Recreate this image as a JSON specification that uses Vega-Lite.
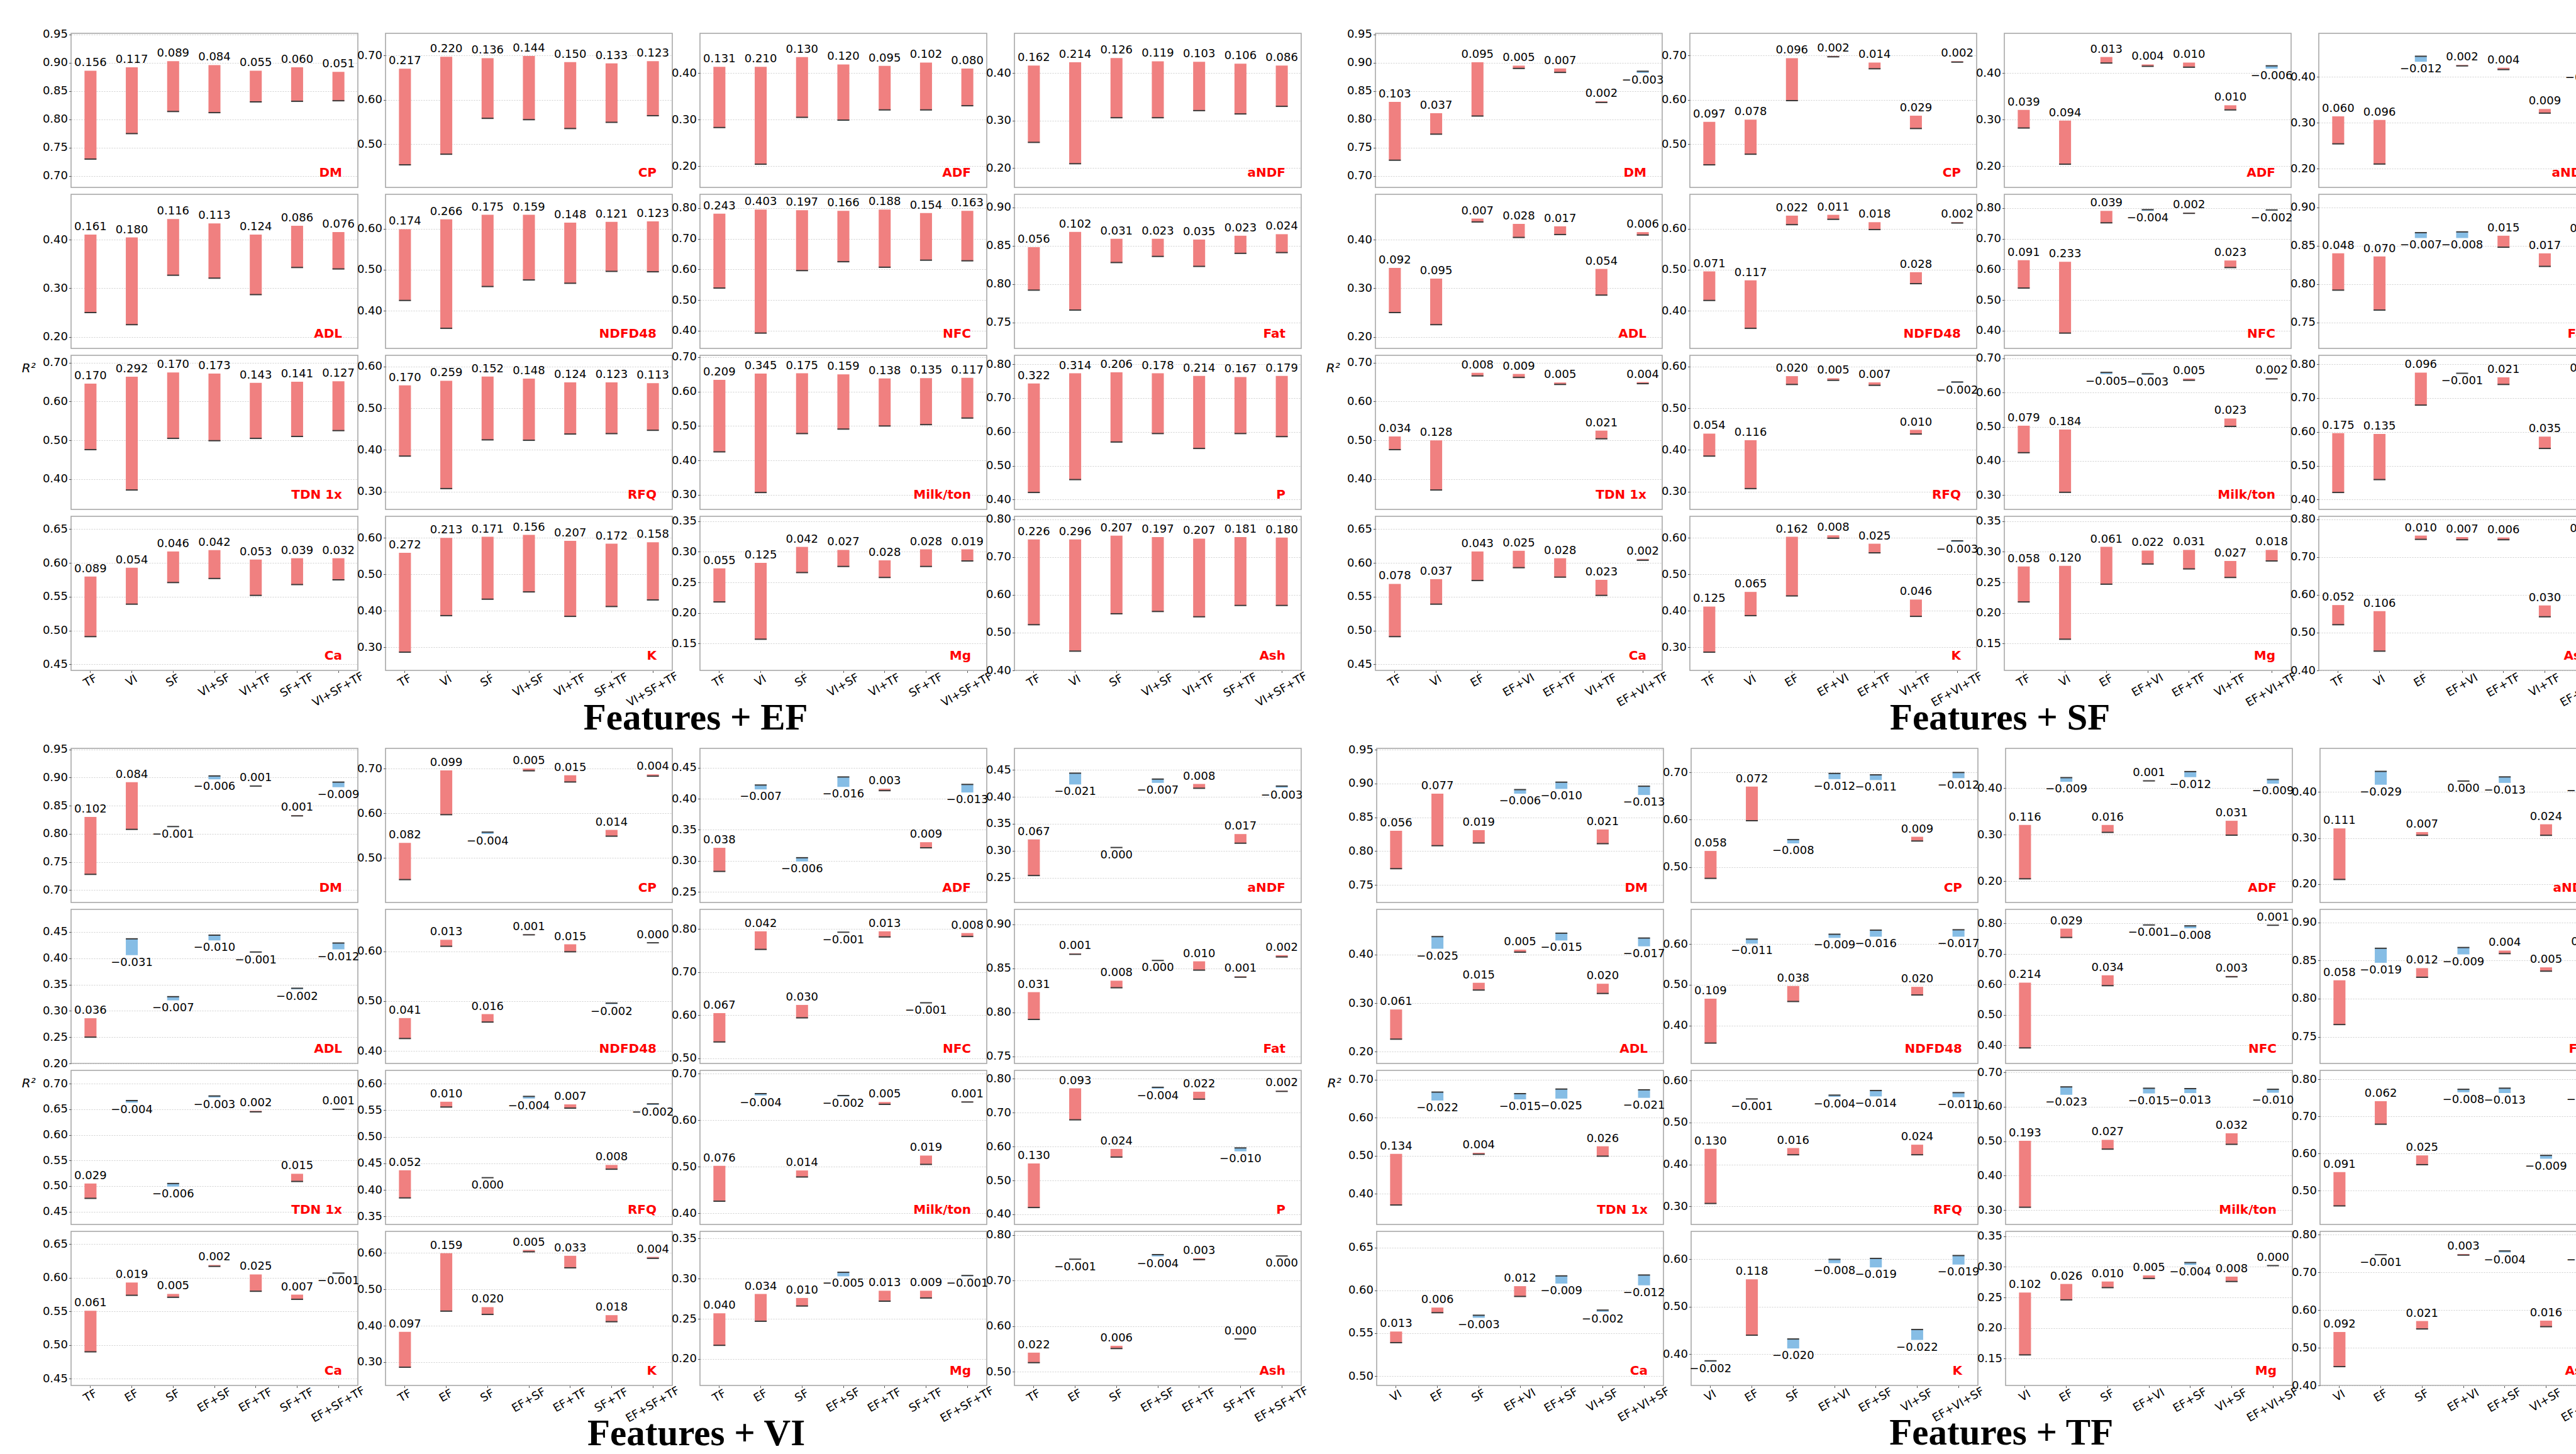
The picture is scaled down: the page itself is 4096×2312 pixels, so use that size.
{
"$schema": "https://vega.github.io/schema/vega-lite/v6.json",
"background": "white",
"padding": {"left": 34, "top": 44, "right": 0, "bottom": 0},
"datasets": {
"EF": [
{"t":"DM","lo":0.680,"hi":0.952},
{"t":"DM","f":"TF","b":0.730,"n":0.886,"g":0.156},
{"t":"DM","f":"VI","b":0.775,"n":0.892,"g":0.117},
{"t":"DM","f":"SF","b":0.814,"n":0.903,"g":0.089},
{"t":"DM","f":"VI+SF","b":0.812,"n":0.896,"g":0.084},
{"t":"DM","f":"VI+TF","b":0.831,"n":0.886,"g":0.055},
{"t":"DM","f":"SF+TF","b":0.832,"n":0.892,"g":0.060},
{"t":"DM","f":"VI+SF+TF","b":0.833,"n":0.884,"g":0.051},
{"t":"CP","lo":0.402,"hi":0.750},
{"t":"CP","f":"TF","b":0.453,"n":0.670,"g":0.217},
{"t":"CP","f":"VI","b":0.477,"n":0.697,"g":0.220},
{"t":"CP","f":"SF","b":0.558,"n":0.694,"g":0.136},
{"t":"CP","f":"VI+SF","b":0.555,"n":0.699,"g":0.144},
{"t":"CP","f":"VI+TF","b":0.535,"n":0.685,"g":0.150},
{"t":"CP","f":"SF+TF","b":0.549,"n":0.682,"g":0.133},
{"t":"CP","f":"VI+SF+TF","b":0.564,"n":0.687,"g":0.123},
{"t":"ADF","lo":0.154,"hi":0.486},
{"t":"ADF","f":"TF","b":0.283,"n":0.414,"g":0.131},
{"t":"ADF","f":"VI","b":0.204,"n":0.414,"g":0.210},
{"t":"ADF","f":"SF","b":0.305,"n":0.435,"g":0.130},
{"t":"ADF","f":"VI+SF","b":0.299,"n":0.419,"g":0.120},
{"t":"ADF","f":"VI+TF","b":0.321,"n":0.416,"g":0.095},
{"t":"ADF","f":"SF+TF","b":0.321,"n":0.423,"g":0.102},
{"t":"ADF","f":"VI+SF+TF","b":0.330,"n":0.410,"g":0.080},
{"t":"aNDF","lo":0.159,"hi":0.484},
{"t":"aNDF","f":"TF","b":0.254,"n":0.416,"g":0.162},
{"t":"aNDF","f":"VI","b":0.209,"n":0.423,"g":0.214},
{"t":"aNDF","f":"SF","b":0.306,"n":0.432,"g":0.126},
{"t":"aNDF","f":"VI+SF","b":0.306,"n":0.425,"g":0.119},
{"t":"aNDF","f":"VI+TF","b":0.321,"n":0.424,"g":0.103},
{"t":"aNDF","f":"SF+TF","b":0.314,"n":0.420,"g":0.106},
{"t":"aNDF","f":"VI+SF+TF","b":0.330,"n":0.416,"g":0.086},
{"t":"ADL","lo":0.176,"hi":0.494},
{"t":"ADL","f":"TF","b":0.250,"n":0.411,"g":0.161},
{"t":"ADL","f":"VI","b":0.225,"n":0.405,"g":0.180},
{"t":"ADL","f":"SF","b":0.327,"n":0.443,"g":0.116},
{"t":"ADL","f":"VI+SF","b":0.321,"n":0.434,"g":0.113},
{"t":"ADL","f":"VI+TF","b":0.287,"n":0.411,"g":0.124},
{"t":"ADL","f":"SF+TF","b":0.343,"n":0.429,"g":0.086},
{"t":"ADL","f":"VI+SF+TF","b":0.340,"n":0.416,"g":0.076},
{"t":"NDFD48","lo":0.308,"hi":0.684},
{"t":"NDFD48","f":"TF","b":0.425,"n":0.599,"g":0.174},
{"t":"NDFD48","f":"VI","b":0.357,"n":0.623,"g":0.266},
{"t":"NDFD48","f":"SF","b":0.459,"n":0.634,"g":0.175},
{"t":"NDFD48","f":"VI+SF","b":0.475,"n":0.634,"g":0.159},
{"t":"NDFD48","f":"VI+TF","b":0.467,"n":0.615,"g":0.148},
{"t":"NDFD48","f":"SF+TF","b":0.496,"n":0.617,"g":0.121},
{"t":"NDFD48","f":"VI+SF+TF","b":0.495,"n":0.618,"g":0.123},
{"t":"NFC","lo":0.342,"hi":0.845},
{"t":"NFC","f":"TF","b":0.539,"n":0.782,"g":0.243},
{"t":"NFC","f":"VI","b":0.392,"n":0.795,"g":0.403},
{"t":"NFC","f":"SF","b":0.596,"n":0.793,"g":0.197},
{"t":"NFC","f":"VI+SF","b":0.625,"n":0.791,"g":0.166},
{"t":"NFC","f":"VI+TF","b":0.607,"n":0.795,"g":0.188},
{"t":"NFC","f":"SF+TF","b":0.630,"n":0.784,"g":0.154},
{"t":"NFC","f":"VI+SF+TF","b":0.628,"n":0.791,"g":0.163},
{"t":"Fat","lo":0.716,"hi":0.917},
{"t":"Fat","f":"TF","b":0.792,"n":0.848,"g":0.056},
{"t":"Fat","f":"VI","b":0.766,"n":0.868,"g":0.102},
{"t":"Fat","f":"SF","b":0.828,"n":0.859,"g":0.031},
{"t":"Fat","f":"VI+SF","b":0.836,"n":0.859,"g":0.023},
{"t":"Fat","f":"VI+TF","b":0.823,"n":0.858,"g":0.035},
{"t":"Fat","f":"SF+TF","b":0.840,"n":0.863,"g":0.023},
{"t":"Fat","f":"VI+SF+TF","b":0.841,"n":0.865,"g":0.024},
{"t":"TDN 1x","lo":0.322,"hi":0.719},
{"t":"TDN 1x","f":"TF","b":0.476,"n":0.646,"g":0.170},
{"t":"TDN 1x","f":"VI","b":0.372,"n":0.664,"g":0.292},
{"t":"TDN 1x","f":"SF","b":0.505,"n":0.675,"g":0.170},
{"t":"TDN 1x","f":"VI+SF","b":0.499,"n":0.672,"g":0.173},
{"t":"TDN 1x","f":"VI+TF","b":0.505,"n":0.648,"g":0.143},
{"t":"TDN 1x","f":"SF+TF","b":0.510,"n":0.651,"g":0.141},
{"t":"TDN 1x","f":"VI+SF+TF","b":0.525,"n":0.652,"g":0.127},
{"t":"RFQ","lo":0.257,"hi":0.627},
{"t":"RFQ","f":"TF","b":0.385,"n":0.555,"g":0.170},
{"t":"RFQ","f":"VI","b":0.307,"n":0.566,"g":0.259},
{"t":"RFQ","f":"SF","b":0.424,"n":0.576,"g":0.152},
{"t":"RFQ","f":"VI+SF","b":0.423,"n":0.571,"g":0.148},
{"t":"RFQ","f":"VI+TF","b":0.438,"n":0.562,"g":0.124},
{"t":"RFQ","f":"SF+TF","b":0.439,"n":0.562,"g":0.123},
{"t":"RFQ","f":"VI+SF+TF","b":0.447,"n":0.560,"g":0.113},
{"t":"Milk/ton","lo":0.258,"hi":0.705},
{"t":"Milk/ton","f":"TF","b":0.425,"n":0.634,"g":0.209},
{"t":"Milk/ton","f":"VI","b":0.307,"n":0.652,"g":0.345},
{"t":"Milk/ton","f":"SF","b":0.478,"n":0.653,"g":0.175},
{"t":"Milk/ton","f":"VI+SF","b":0.491,"n":0.650,"g":0.159},
{"t":"Milk/ton","f":"VI+TF","b":0.500,"n":0.638,"g":0.138},
{"t":"Milk/ton","f":"SF+TF","b":0.504,"n":0.639,"g":0.135},
{"t":"Milk/ton","f":"VI+SF+TF","b":0.523,"n":0.640,"g":0.117},
{"t":"P","lo":0.371,"hi":0.826},
{"t":"P","f":"TF","b":0.421,"n":0.743,"g":0.322},
{"t":"P","f":"VI","b":0.459,"n":0.773,"g":0.314},
{"t":"P","f":"SF","b":0.570,"n":0.776,"g":0.206},
{"t":"P","f":"VI+SF","b":0.595,"n":0.773,"g":0.178},
{"t":"P","f":"VI+TF","b":0.551,"n":0.765,"g":0.214},
{"t":"P","f":"SF+TF","b":0.595,"n":0.762,"g":0.167},
{"t":"P","f":"VI+SF+TF","b":0.586,"n":0.765,"g":0.179},
{"t":"Ca","lo":0.441,"hi":0.669},
{"t":"Ca","f":"TF","b":0.491,"n":0.580,"g":0.089},
{"t":"Ca","f":"VI","b":0.539,"n":0.593,"g":0.054},
{"t":"Ca","f":"SF","b":0.571,"n":0.617,"g":0.046},
{"t":"Ca","f":"VI+SF","b":0.577,"n":0.619,"g":0.042},
{"t":"Ca","f":"VI+TF","b":0.552,"n":0.605,"g":0.053},
{"t":"Ca","f":"SF+TF","b":0.568,"n":0.607,"g":0.039},
{"t":"Ca","f":"VI+SF+TF","b":0.575,"n":0.607,"g":0.032},
{"t":"K","lo":0.237,"hi":0.659},
{"t":"K","f":"TF","b":0.287,"n":0.559,"g":0.272},
{"t":"K","f":"VI","b":0.387,"n":0.600,"g":0.213},
{"t":"K","f":"SF","b":0.432,"n":0.603,"g":0.171},
{"t":"K","f":"VI+SF","b":0.452,"n":0.608,"g":0.156},
{"t":"K","f":"VI+TF","b":0.385,"n":0.592,"g":0.207},
{"t":"K","f":"SF+TF","b":0.412,"n":0.584,"g":0.172},
{"t":"K","f":"VI+SF+TF","b":0.430,"n":0.588,"g":0.158},
{"t":"Mg","lo":0.106,"hi":0.358},
{"t":"Mg","f":"TF","b":0.218,"n":0.273,"g":0.055},
{"t":"Mg","f":"VI","b":0.157,"n":0.282,"g":0.125},
{"t":"Mg","f":"SF","b":0.266,"n":0.308,"g":0.042},
{"t":"Mg","f":"VI+SF","b":0.276,"n":0.303,"g":0.027},
{"t":"Mg","f":"VI+TF","b":0.258,"n":0.286,"g":0.028},
{"t":"Mg","f":"SF+TF","b":0.276,"n":0.304,"g":0.028},
{"t":"Mg","f":"VI+SF+TF","b":0.285,"n":0.304,"g":0.019},
{"t":"Ash","lo":0.400,"hi":0.808},
{"t":"Ash","f":"TF","b":0.521,"n":0.747,"g":0.226},
{"t":"Ash","f":"VI","b":0.451,"n":0.747,"g":0.296},
{"t":"Ash","f":"SF","b":0.550,"n":0.757,"g":0.207},
{"t":"Ash","f":"VI+SF","b":0.556,"n":0.753,"g":0.197},
{"t":"Ash","f":"VI+TF","b":0.542,"n":0.749,"g":0.207},
{"t":"Ash","f":"SF+TF","b":0.572,"n":0.753,"g":0.181},
{"t":"Ash","f":"VI+SF+TF","b":0.572,"n":0.752,"g":0.180}
],
"SF": [
{"t":"DM","lo":0.680,"hi":0.952},
{"t":"DM","f":"TF","b":0.728,"n":0.831,"g":0.103},
{"t":"DM","f":"VI","b":0.774,"n":0.811,"g":0.037},
{"t":"DM","f":"EF","b":0.806,"n":0.901,"g":0.095},
{"t":"DM","f":"EF+VI","b":0.890,"n":0.895,"g":0.005},
{"t":"DM","f":"EF+TF","b":0.883,"n":0.890,"g":0.007},
{"t":"DM","f":"VI+TF","b":0.830,"n":0.832,"g":0.002},
{"t":"DM","f":"EF+VI+TF","b":0.885,"n":0.882,"g":-0.003},
{"t":"CP","lo":0.402,"hi":0.750},
{"t":"CP","f":"TF","b":0.453,"n":0.550,"g":0.097},
{"t":"CP","f":"VI","b":0.477,"n":0.555,"g":0.078},
{"t":"CP","f":"EF","b":0.598,"n":0.694,"g":0.096},
{"t":"CP","f":"EF+VI","b":0.697,"n":0.699,"g":0.002},
{"t":"CP","f":"EF+TF","b":0.670,"n":0.684,"g":0.014},
{"t":"CP","f":"VI+TF","b":0.535,"n":0.564,"g":0.029},
{"t":"CP","f":"EF+VI+TF","b":0.685,"n":0.687,"g":0.002},
{"t":"ADF","lo":0.154,"hi":0.486},
{"t":"ADF","f":"TF","b":0.282,"n":0.321,"g":0.039},
{"t":"ADF","f":"VI","b":0.204,"n":0.298,"g":0.094},
{"t":"ADF","f":"EF","b":0.422,"n":0.435,"g":0.013},
{"t":"ADF","f":"EF+VI","b":0.415,"n":0.419,"g":0.004},
{"t":"ADF","f":"EF+TF","b":0.413,"n":0.423,"g":0.010},
{"t":"ADF","f":"VI+TF","b":0.321,"n":0.331,"g":0.010},
{"t":"ADF","f":"EF+VI+TF","b":0.416,"n":0.410,"g":-0.006},
{"t":"aNDF","lo":0.159,"hi":0.495},
{"t":"aNDF","f":"TF","b":0.254,"n":0.314,"g":0.060},
{"t":"aNDF","f":"VI","b":0.210,"n":0.306,"g":0.096},
{"t":"aNDF","f":"EF","b":0.445,"n":0.433,"g":-0.012},
{"t":"aNDF","f":"EF+VI","b":0.424,"n":0.426,"g":0.002},
{"t":"aNDF","f":"EF+TF","b":0.416,"n":0.420,"g":0.004},
{"t":"aNDF","f":"VI+TF","b":0.321,"n":0.330,"g":0.009},
{"t":"aNDF","f":"EF+VI+TF","b":0.419,"n":0.414,"g":-0.005},
{"t":"ADL","lo":0.176,"hi":0.494},
{"t":"ADL","f":"TF","b":0.250,"n":0.342,"g":0.092},
{"t":"ADL","f":"VI","b":0.225,"n":0.320,"g":0.095},
{"t":"ADL","f":"EF","b":0.437,"n":0.444,"g":0.007},
{"t":"ADL","f":"EF+VI","b":0.405,"n":0.433,"g":0.028},
{"t":"ADL","f":"EF+TF","b":0.411,"n":0.428,"g":0.017},
{"t":"ADL","f":"VI+TF","b":0.286,"n":0.340,"g":0.054},
{"t":"ADL","f":"EF+VI+TF","b":0.410,"n":0.416,"g":0.006},
{"t":"NDFD48","lo":0.308,"hi":0.684},
{"t":"NDFD48","f":"TF","b":0.425,"n":0.496,"g":0.071},
{"t":"NDFD48","f":"VI","b":0.357,"n":0.474,"g":0.117},
{"t":"NDFD48","f":"EF","b":0.610,"n":0.632,"g":0.022},
{"t":"NDFD48","f":"EF+VI","b":0.623,"n":0.634,"g":0.011},
{"t":"NDFD48","f":"EF+TF","b":0.598,"n":0.616,"g":0.018},
{"t":"NDFD48","f":"VI+TF","b":0.466,"n":0.494,"g":0.028},
{"t":"NDFD48","f":"EF+VI+TF","b":0.614,"n":0.616,"g":0.002},
{"t":"NFC","lo":0.342,"hi":0.845},
{"t":"NFC","f":"TF","b":0.539,"n":0.630,"g":0.091},
{"t":"NFC","f":"VI","b":0.392,"n":0.625,"g":0.233},
{"t":"NFC","f":"EF","b":0.752,"n":0.791,"g":0.039},
{"t":"NFC","f":"EF+VI","b":0.795,"n":0.791,"g":-0.004},
{"t":"NFC","f":"EF+TF","b":0.783,"n":0.785,"g":0.002},
{"t":"NFC","f":"VI+TF","b":0.606,"n":0.629,"g":0.023},
{"t":"NFC","f":"EF+VI+TF","b":0.794,"n":0.792,"g":-0.002},
{"t":"Fat","lo":0.716,"hi":0.917},
{"t":"Fat","f":"TF","b":0.792,"n":0.840,"g":0.048},
{"t":"Fat","f":"VI","b":0.766,"n":0.836,"g":0.070},
{"t":"Fat","f":"EF","b":0.867,"n":0.860,"g":-0.007},
{"t":"Fat","f":"EF+VI","b":0.868,"n":0.860,"g":-0.008},
{"t":"Fat","f":"EF+TF","b":0.848,"n":0.863,"g":0.015},
{"t":"Fat","f":"VI+TF","b":0.823,"n":0.840,"g":0.017},
{"t":"Fat","f":"EF+VI+TF","b":0.858,"n":0.862,"g":0.004},
{"t":"TDN 1x","lo":0.322,"hi":0.719},
{"t":"TDN 1x","f":"TF","b":0.476,"n":0.510,"g":0.034},
{"t":"TDN 1x","f":"VI","b":0.372,"n":0.500,"g":0.128},
{"t":"TDN 1x","f":"EF","b":0.666,"n":0.674,"g":0.008},
{"t":"TDN 1x","f":"EF+VI","b":0.662,"n":0.671,"g":0.009},
{"t":"TDN 1x","f":"EF+TF","b":0.644,"n":0.649,"g":0.005},
{"t":"TDN 1x","f":"VI+TF","b":0.504,"n":0.525,"g":0.021},
{"t":"TDN 1x","f":"EF+VI+TF","b":0.646,"n":0.650,"g":0.004},
{"t":"RFQ","lo":0.257,"hi":0.627},
{"t":"RFQ","f":"TF","b":0.385,"n":0.439,"g":0.054},
{"t":"RFQ","f":"VI","b":0.307,"n":0.423,"g":0.116},
{"t":"RFQ","f":"EF","b":0.557,"n":0.577,"g":0.020},
{"t":"RFQ","f":"EF+VI","b":0.567,"n":0.572,"g":0.005},
{"t":"RFQ","f":"EF+TF","b":0.555,"n":0.562,"g":0.007},
{"t":"RFQ","f":"VI+TF","b":0.438,"n":0.448,"g":0.010},
{"t":"RFQ","f":"EF+VI+TF","b":0.563,"n":0.561,"g":-0.002},
{"t":"Milk/ton","lo":0.258,"hi":0.709},
{"t":"Milk/ton","f":"TF","b":0.424,"n":0.503,"g":0.079},
{"t":"Milk/ton","f":"VI","b":0.308,"n":0.492,"g":0.184},
{"t":"Milk/ton","f":"EF","b":0.659,"n":0.654,"g":-0.005},
{"t":"Milk/ton","f":"EF+VI","b":0.655,"n":0.652,"g":-0.003},
{"t":"Milk/ton","f":"EF+TF","b":0.636,"n":0.641,"g":0.005},
{"t":"Milk/ton","f":"VI+TF","b":0.501,"n":0.524,"g":0.023},
{"t":"Milk/ton","f":"EF+VI+TF","b":0.640,"n":0.642,"g":0.002},
{"t":"P","lo":0.371,"hi":0.826},
{"t":"P","f":"TF","b":0.421,"n":0.596,"g":0.175},
{"t":"P","f":"VI","b":0.459,"n":0.594,"g":0.135},
{"t":"P","f":"EF","b":0.679,"n":0.775,"g":0.096},
{"t":"P","f":"EF+VI","b":0.773,"n":0.772,"g":-0.001},
{"t":"P","f":"EF+TF","b":0.740,"n":0.761,"g":0.021},
{"t":"P","f":"VI+TF","b":0.551,"n":0.586,"g":0.035},
{"t":"P","f":"EF+VI+TF","b":0.762,"n":0.764,"g":0.002},
{"t":"Ca","lo":0.441,"hi":0.669},
{"t":"Ca","f":"TF","b":0.491,"n":0.569,"g":0.078},
{"t":"Ca","f":"VI","b":0.539,"n":0.576,"g":0.037},
{"t":"Ca","f":"EF","b":0.574,"n":0.617,"g":0.043},
{"t":"Ca","f":"EF+VI","b":0.593,"n":0.618,"g":0.025},
{"t":"Ca","f":"EF+TF","b":0.579,"n":0.607,"g":0.028},
{"t":"Ca","f":"VI+TF","b":0.552,"n":0.575,"g":0.023},
{"t":"Ca","f":"EF+VI+TF","b":0.604,"n":0.606,"g":0.002},
{"t":"K","lo":0.237,"hi":0.659},
{"t":"K","f":"TF","b":0.287,"n":0.412,"g":0.125},
{"t":"K","f":"VI","b":0.387,"n":0.452,"g":0.065},
{"t":"K","f":"EF","b":0.441,"n":0.603,"g":0.162},
{"t":"K","f":"EF+VI","b":0.599,"n":0.607,"g":0.008},
{"t":"K","f":"EF+TF","b":0.559,"n":0.584,"g":0.025},
{"t":"K","f":"VI+TF","b":0.385,"n":0.431,"g":0.046},
{"t":"K","f":"EF+VI+TF","b":0.592,"n":0.589,"g":-0.003},
{"t":"Mg","lo":0.106,"hi":0.358},
{"t":"Mg","f":"TF","b":0.218,"n":0.276,"g":0.058},
{"t":"Mg","f":"VI","b":0.157,"n":0.277,"g":0.120},
{"t":"Mg","f":"EF","b":0.247,"n":0.308,"g":0.061},
{"t":"Mg","f":"EF+VI","b":0.280,"n":0.302,"g":0.022},
{"t":"Mg","f":"EF+TF","b":0.272,"n":0.303,"g":0.031},
{"t":"Mg","f":"VI+TF","b":0.258,"n":0.285,"g":0.027},
{"t":"Mg","f":"EF+VI+TF","b":0.285,"n":0.303,"g":0.018},
{"t":"Ash","lo":0.400,"hi":0.808},
{"t":"Ash","f":"TF","b":0.521,"n":0.573,"g":0.052},
{"t":"Ash","f":"VI","b":0.451,"n":0.557,"g":0.106},
{"t":"Ash","f":"EF","b":0.747,"n":0.757,"g":0.010},
{"t":"Ash","f":"EF+VI","b":0.746,"n":0.753,"g":0.007},
{"t":"Ash","f":"EF+TF","b":0.746,"n":0.752,"g":0.006},
{"t":"Ash","f":"VI+TF","b":0.542,"n":0.572,"g":0.030},
{"t":"Ash","f":"EF+VI+TF","b":0.752,"n":0.754,"g":0.002}
],
"VI": [
{"t":"DM","lo":0.678,"hi":0.952},
{"t":"DM","f":"TF","b":0.728,"n":0.830,"g":0.102},
{"t":"DM","f":"EF","b":0.808,"n":0.892,"g":0.084},
{"t":"DM","f":"SF","b":0.813,"n":0.812,"g":-0.001},
{"t":"DM","f":"EF+SF","b":0.903,"n":0.897,"g":-0.006},
{"t":"DM","f":"EF+TF","b":0.885,"n":0.886,"g":0.001},
{"t":"DM","f":"SF+TF","b":0.832,"n":0.833,"g":0.001},
{"t":"DM","f":"EF+SF+TF","b":0.892,"n":0.883,"g":-0.009},
{"t":"CP","lo":0.401,"hi":0.745},
{"t":"CP","f":"TF","b":0.452,"n":0.534,"g":0.082},
{"t":"CP","f":"EF","b":0.597,"n":0.696,"g":0.099},
{"t":"CP","f":"SF","b":0.558,"n":0.554,"g":-0.004},
{"t":"CP","f":"EF+SF","b":0.695,"n":0.700,"g":0.005},
{"t":"CP","f":"EF+TF","b":0.670,"n":0.685,"g":0.015},
{"t":"CP","f":"SF+TF","b":0.549,"n":0.563,"g":0.014},
{"t":"CP","f":"EF+SF+TF","b":0.683,"n":0.687,"g":0.004},
{"t":"ADF","lo":0.233,"hi":0.481},
{"t":"ADF","f":"TF","b":0.283,"n":0.321,"g":0.038},
{"t":"ADF","f":"EF","b":0.422,"n":0.415,"g":-0.007},
{"t":"ADF","f":"SF","b":0.305,"n":0.299,"g":-0.006},
{"t":"ADF","f":"EF+SF","b":0.435,"n":0.419,"g":-0.016},
{"t":"ADF","f":"EF+TF","b":0.413,"n":0.416,"g":0.003},
{"t":"ADF","f":"SF+TF","b":0.321,"n":0.330,"g":0.009},
{"t":"ADF","f":"EF+SF+TF","b":0.423,"n":0.410,"g":-0.013},
{"t":"aNDF","lo":0.204,"hi":0.490},
{"t":"aNDF","f":"TF","b":0.254,"n":0.321,"g":0.067},
{"t":"aNDF","f":"EF","b":0.444,"n":0.423,"g":-0.021},
{"t":"aNDF","f":"SF","b":0.306,"n":0.306,"g":-0.0004},
{"t":"aNDF","f":"EF+SF","b":0.433,"n":0.426,"g":-0.007},
{"t":"aNDF","f":"EF+TF","b":0.416,"n":0.424,"g":0.008},
{"t":"aNDF","f":"SF+TF","b":0.314,"n":0.331,"g":0.017},
{"t":"aNDF","f":"EF+SF+TF","b":0.420,"n":0.417,"g":-0.003},
{"t":"ADL","lo":0.200,"hi":0.493},
{"t":"ADL","f":"TF","b":0.250,"n":0.286,"g":0.036},
{"t":"ADL","f":"EF","b":0.437,"n":0.406,"g":-0.031},
{"t":"ADL","f":"SF","b":0.327,"n":0.320,"g":-0.007},
{"t":"ADL","f":"EF+SF","b":0.444,"n":0.434,"g":-0.010},
{"t":"ADL","f":"EF+TF","b":0.412,"n":0.411,"g":-0.001},
{"t":"ADL","f":"SF+TF","b":0.343,"n":0.341,"g":-0.002},
{"t":"ADL","f":"EF+SF+TF","b":0.429,"n":0.417,"g":-0.012},
{"t":"NDFD48","lo":0.375,"hi":0.684},
{"t":"NDFD48","f":"TF","b":0.425,"n":0.466,"g":0.041},
{"t":"NDFD48","f":"EF","b":0.610,"n":0.623,"g":0.013},
{"t":"NDFD48","f":"SF","b":0.458,"n":0.474,"g":0.016},
{"t":"NDFD48","f":"EF+SF","b":0.633,"n":0.634,"g":0.001},
{"t":"NDFD48","f":"EF+TF","b":0.599,"n":0.614,"g":0.015},
{"t":"NDFD48","f":"SF+TF","b":0.496,"n":0.494,"g":-0.002},
{"t":"NDFD48","f":"EF+SF+TF","b":0.617,"n":0.617,"g":0.0004},
{"t":"NFC","lo":0.488,"hi":0.846},
{"t":"NFC","f":"TF","b":0.538,"n":0.605,"g":0.067},
{"t":"NFC","f":"EF","b":0.753,"n":0.795,"g":0.042},
{"t":"NFC","f":"SF","b":0.594,"n":0.624,"g":0.030},
{"t":"NFC","f":"EF+SF","b":0.793,"n":0.792,"g":-0.001},
{"t":"NFC","f":"EF+TF","b":0.782,"n":0.795,"g":0.013},
{"t":"NFC","f":"SF+TF","b":0.629,"n":0.628,"g":-0.001},
{"t":"NFC","f":"EF+SF+TF","b":0.783,"n":0.791,"g":0.008},
{"t":"Fat","lo":0.742,"hi":0.917},
{"t":"Fat","f":"TF","b":0.792,"n":0.823,"g":0.031},
{"t":"Fat","f":"EF","b":0.866,"n":0.867,"g":0.001},
{"t":"Fat","f":"SF","b":0.828,"n":0.836,"g":0.008},
{"t":"Fat","f":"EF+SF","b":0.859,"n":0.859,"g":-0.0004},
{"t":"Fat","f":"EF+TF","b":0.848,"n":0.858,"g":0.010},
{"t":"Fat","f":"SF+TF","b":0.840,"n":0.841,"g":0.001},
{"t":"Fat","f":"EF+SF+TF","b":0.863,"n":0.865,"g":0.002},
{"t":"TDN 1x","lo":0.425,"hi":0.726},
{"t":"TDN 1x","f":"TF","b":0.476,"n":0.505,"g":0.029},
{"t":"TDN 1x","f":"EF","b":0.667,"n":0.663,"g":-0.004},
{"t":"TDN 1x","f":"SF","b":0.505,"n":0.499,"g":-0.006},
{"t":"TDN 1x","f":"EF+SF","b":0.676,"n":0.673,"g":-0.003},
{"t":"TDN 1x","f":"EF+TF","b":0.645,"n":0.647,"g":0.002},
{"t":"TDN 1x","f":"SF+TF","b":0.509,"n":0.524,"g":0.015},
{"t":"TDN 1x","f":"EF+SF+TF","b":0.650,"n":0.651,"g":0.001},
{"t":"RFQ","lo":0.335,"hi":0.625},
{"t":"RFQ","f":"TF","b":0.385,"n":0.437,"g":0.052},
{"t":"RFQ","f":"EF","b":0.556,"n":0.566,"g":0.010},
{"t":"RFQ","f":"SF","b":0.423,"n":0.423,"g":-0.0004},
{"t":"RFQ","f":"EF+SF","b":0.576,"n":0.572,"g":-0.004},
{"t":"RFQ","f":"EF+TF","b":0.554,"n":0.561,"g":0.007},
{"t":"RFQ","f":"SF+TF","b":0.439,"n":0.447,"g":0.008},
{"t":"RFQ","f":"EF+SF+TF","b":0.562,"n":0.560,"g":-0.002},
{"t":"Milk/ton","lo":0.376,"hi":0.707},
{"t":"Milk/ton","f":"TF","b":0.426,"n":0.502,"g":0.076},
{"t":"Milk/ton","f":"EF","b":0.657,"n":0.653,"g":-0.004},
{"t":"Milk/ton","f":"SF","b":0.478,"n":0.492,"g":0.014},
{"t":"Milk/ton","f":"EF+SF","b":0.653,"n":0.651,"g":-0.002},
{"t":"Milk/ton","f":"EF+TF","b":0.634,"n":0.639,"g":0.005},
{"t":"Milk/ton","f":"SF+TF","b":0.505,"n":0.524,"g":0.019},
{"t":"Milk/ton","f":"EF+SF+TF","b":0.639,"n":0.640,"g":0.001},
{"t":"P","lo":0.370,"hi":0.825},
{"t":"P","f":"TF","b":0.420,"n":0.550,"g":0.130},
{"t":"P","f":"EF","b":0.679,"n":0.772,"g":0.093},
{"t":"P","f":"SF","b":0.569,"n":0.593,"g":0.024},
{"t":"P","f":"EF+SF","b":0.775,"n":0.771,"g":-0.004},
{"t":"P","f":"EF+TF","b":0.740,"n":0.762,"g":0.022},
{"t":"P","f":"SF+TF","b":0.596,"n":0.586,"g":-0.010},
{"t":"P","f":"EF+SF+TF","b":0.763,"n":0.765,"g":0.002},
{"t":"Ca","lo":0.440,"hi":0.669},
{"t":"Ca","f":"TF","b":0.490,"n":0.551,"g":0.061},
{"t":"Ca","f":"EF","b":0.574,"n":0.593,"g":0.019},
{"t":"Ca","f":"SF","b":0.571,"n":0.576,"g":0.005},
{"t":"Ca","f":"EF+SF","b":0.617,"n":0.619,"g":0.002},
{"t":"Ca","f":"EF+TF","b":0.580,"n":0.605,"g":0.025},
{"t":"Ca","f":"SF+TF","b":0.568,"n":0.575,"g":0.007},
{"t":"Ca","f":"EF+SF+TF","b":0.607,"n":0.606,"g":-0.001},
{"t":"K","lo":0.236,"hi":0.659},
{"t":"K","f":"TF","b":0.286,"n":0.383,"g":0.097},
{"t":"K","f":"EF","b":0.440,"n":0.599,"g":0.159},
{"t":"K","f":"SF","b":0.431,"n":0.451,"g":0.020},
{"t":"K","f":"EF+SF","b":0.603,"n":0.608,"g":0.005},
{"t":"K","f":"EF+TF","b":0.559,"n":0.592,"g":0.033},
{"t":"K","f":"SF+TF","b":0.411,"n":0.429,"g":0.018},
{"t":"K","f":"EF+SF+TF","b":0.585,"n":0.589,"g":0.004},
{"t":"Mg","lo":0.167,"hi":0.359},
{"t":"Mg","f":"TF","b":0.217,"n":0.257,"g":0.040},
{"t":"Mg","f":"EF","b":0.247,"n":0.281,"g":0.034},
{"t":"Mg","f":"SF","b":0.266,"n":0.276,"g":0.010},
{"t":"Mg","f":"EF+SF","b":0.308,"n":0.303,"g":-0.005},
{"t":"Mg","f":"EF+TF","b":0.272,"n":0.285,"g":0.013},
{"t":"Mg","f":"SF+TF","b":0.276,"n":0.285,"g":0.009},
{"t":"Mg","f":"EF+SF+TF","b":0.304,"n":0.303,"g":-0.001},
{"t":"Ash","lo":0.470,"hi":0.808},
{"t":"Ash","f":"TF","b":0.520,"n":0.542,"g":0.022},
{"t":"Ash","f":"EF","b":0.747,"n":0.746,"g":-0.001},
{"t":"Ash","f":"SF","b":0.551,"n":0.557,"g":0.006},
{"t":"Ash","f":"EF+SF","b":0.757,"n":0.753,"g":-0.004},
{"t":"Ash","f":"EF+TF","b":0.746,"n":0.749,"g":0.003},
{"t":"Ash","f":"SF+TF","b":0.572,"n":0.572,"g":0.0004},
{"t":"Ash","f":"EF+SF+TF","b":0.754,"n":0.754,"g":-0.0004}
],
"TF": [
{"t":"DM","lo":0.724,"hi":0.952},
{"t":"DM","f":"VI","b":0.774,"n":0.830,"g":0.056},
{"t":"DM","f":"EF","b":0.808,"n":0.885,"g":0.077},
{"t":"DM","f":"SF","b":0.812,"n":0.831,"g":0.019},
{"t":"DM","f":"EF+VI","b":0.891,"n":0.885,"g":-0.006},
{"t":"DM","f":"EF+SF","b":0.902,"n":0.892,"g":-0.010},
{"t":"DM","f":"VI+SF","b":0.811,"n":0.832,"g":0.021},
{"t":"DM","f":"EF+VI+SF","b":0.896,"n":0.883,"g":-0.013},
{"t":"CP","lo":0.425,"hi":0.751},
{"t":"CP","f":"VI","b":0.476,"n":0.534,"g":0.058},
{"t":"CP","f":"EF","b":0.598,"n":0.670,"g":0.072},
{"t":"CP","f":"SF","b":0.558,"n":0.550,"g":-0.008},
{"t":"CP","f":"EF+VI","b":0.698,"n":0.686,"g":-0.012},
{"t":"CP","f":"EF+SF","b":0.695,"n":0.684,"g":-0.011},
{"t":"CP","f":"VI+SF","b":0.555,"n":0.564,"g":0.009},
{"t":"CP","f":"EF+VI+SF","b":0.700,"n":0.688,"g":-0.012},
{"t":"ADF","lo":0.154,"hi":0.486},
{"t":"ADF","f":"VI","b":0.205,"n":0.321,"g":0.116},
{"t":"ADF","f":"EF","b":0.423,"n":0.414,"g":-0.009},
{"t":"ADF","f":"SF","b":0.305,"n":0.321,"g":0.016},
{"t":"ADF","f":"EF+VI","b":0.416,"n":0.417,"g":0.001},
{"t":"ADF","f":"EF+SF","b":0.436,"n":0.424,"g":-0.012},
{"t":"ADF","f":"VI+SF","b":0.299,"n":0.330,"g":0.031},
{"t":"ADF","f":"EF+VI+SF","b":0.419,"n":0.410,"g":-0.009},
{"t":"aNDF","lo":0.160,"hi":0.495},
{"t":"aNDF","f":"VI","b":0.210,"n":0.321,"g":0.111},
{"t":"aNDF","f":"EF","b":0.445,"n":0.416,"g":-0.029},
{"t":"aNDF","f":"SF","b":0.306,"n":0.313,"g":0.007},
{"t":"aNDF","f":"EF+VI","b":0.424,"n":0.424,"g":-0.0004},
{"t":"aNDF","f":"EF+SF","b":0.433,"n":0.420,"g":-0.013},
{"t":"aNDF","f":"VI+SF","b":0.306,"n":0.330,"g":0.024},
{"t":"aNDF","f":"EF+VI+SF","b":0.423,"n":0.419,"g":-0.004},
{"t":"ADL","lo":0.176,"hi":0.493},
{"t":"ADL","f":"VI","b":0.226,"n":0.287,"g":0.061},
{"t":"ADL","f":"EF","b":0.437,"n":0.412,"g":-0.025},
{"t":"ADL","f":"SF","b":0.327,"n":0.342,"g":0.015},
{"t":"ADL","f":"EF+VI","b":0.405,"n":0.410,"g":0.005},
{"t":"ADL","f":"EF+SF","b":0.444,"n":0.429,"g":-0.015},
{"t":"ADL","f":"VI+SF","b":0.320,"n":0.340,"g":0.020},
{"t":"ADL","f":"EF+VI+SF","b":0.434,"n":0.417,"g":-0.017},
{"t":"NDFD48","lo":0.307,"hi":0.685},
{"t":"NDFD48","f":"VI","b":0.357,"n":0.466,"g":0.109},
{"t":"NDFD48","f":"EF","b":0.612,"n":0.601,"g":-0.011},
{"t":"NDFD48","f":"SF","b":0.459,"n":0.497,"g":0.038},
{"t":"NDFD48","f":"EF+VI","b":0.624,"n":0.615,"g":-0.009},
{"t":"NDFD48","f":"EF+SF","b":0.634,"n":0.618,"g":-0.016},
{"t":"NDFD48","f":"VI+SF","b":0.475,"n":0.495,"g":0.020},
{"t":"NDFD48","f":"EF+VI+SF","b":0.635,"n":0.618,"g":-0.017},
{"t":"NFC","lo":0.341,"hi":0.846},
{"t":"NFC","f":"VI","b":0.392,"n":0.606,"g":0.214},
{"t":"NFC","f":"EF","b":0.754,"n":0.783,"g":0.029},
{"t":"NFC","f":"SF","b":0.596,"n":0.630,"g":0.034},
{"t":"NFC","f":"EF+VI","b":0.795,"n":0.794,"g":-0.001},
{"t":"NFC","f":"EF+SF","b":0.792,"n":0.784,"g":-0.008},
{"t":"NFC","f":"VI+SF","b":0.625,"n":0.628,"g":0.003},
{"t":"NFC","f":"EF+VI+SF","b":0.794,"n":0.795,"g":0.001},
{"t":"Fat","lo":0.715,"hi":0.917},
{"t":"Fat","f":"VI","b":0.766,"n":0.824,"g":0.058},
{"t":"Fat","f":"EF","b":0.866,"n":0.847,"g":-0.019},
{"t":"Fat","f":"SF","b":0.828,"n":0.840,"g":0.012},
{"t":"Fat","f":"EF+VI","b":0.867,"n":0.858,"g":-0.009},
{"t":"Fat","f":"EF+SF","b":0.859,"n":0.863,"g":0.004},
{"t":"Fat","f":"VI+SF","b":0.836,"n":0.841,"g":0.005},
{"t":"Fat","f":"EF+VI+SF","b":0.862,"n":0.864,"g":0.002},
{"t":"TDN 1x","lo":0.320,"hi":0.724},
{"t":"TDN 1x","f":"VI","b":0.371,"n":0.505,"g":0.134},
{"t":"TDN 1x","f":"EF","b":0.667,"n":0.645,"g":-0.022},
{"t":"TDN 1x","f":"SF","b":0.504,"n":0.508,"g":0.004},
{"t":"TDN 1x","f":"EF+VI","b":0.663,"n":0.648,"g":-0.015},
{"t":"TDN 1x","f":"EF+SF","b":0.675,"n":0.650,"g":-0.025},
{"t":"TDN 1x","f":"VI+SF","b":0.499,"n":0.525,"g":0.026},
{"t":"TDN 1x","f":"EF+VI+SF","b":0.673,"n":0.652,"g":-0.021},
{"t":"RFQ","lo":0.257,"hi":0.624},
{"t":"RFQ","f":"VI","b":0.307,"n":0.437,"g":0.130},
{"t":"RFQ","f":"EF","b":0.556,"n":0.555,"g":-0.001},
{"t":"RFQ","f":"SF","b":0.423,"n":0.439,"g":0.016},
{"t":"RFQ","f":"EF+VI","b":0.565,"n":0.561,"g":-0.004},
{"t":"RFQ","f":"EF+SF","b":0.576,"n":0.562,"g":-0.014},
{"t":"RFQ","f":"VI+SF","b":0.423,"n":0.447,"g":0.024},
{"t":"RFQ","f":"EF+VI+SF","b":0.571,"n":0.560,"g":-0.011},
{"t":"Milk/ton","lo":0.258,"hi":0.706},
{"t":"Milk/ton","f":"VI","b":0.308,"n":0.501,"g":0.193},
{"t":"Milk/ton","f":"EF","b":0.658,"n":0.635,"g":-0.023},
{"t":"Milk/ton","f":"SF","b":0.477,"n":0.504,"g":0.027},
{"t":"Milk/ton","f":"EF+VI","b":0.654,"n":0.639,"g":-0.015},
{"t":"Milk/ton","f":"EF+SF","b":0.653,"n":0.640,"g":-0.013},
{"t":"Milk/ton","f":"VI+SF","b":0.491,"n":0.523,"g":0.032},
{"t":"Milk/ton","f":"EF+VI+SF","b":0.651,"n":0.641,"g":-0.010},
{"t":"P","lo":0.409,"hi":0.824},
{"t":"P","f":"VI","b":0.459,"n":0.550,"g":0.091},
{"t":"P","f":"EF","b":0.679,"n":0.741,"g":0.062},
{"t":"P","f":"SF","b":0.570,"n":0.595,"g":0.025},
{"t":"P","f":"EF+VI","b":0.773,"n":0.765,"g":-0.008},
{"t":"P","f":"EF+SF","b":0.776,"n":0.763,"g":-0.013},
{"t":"P","f":"VI+SF","b":0.595,"n":0.586,"g":-0.009},
{"t":"P","f":"EF+VI+SF","b":0.775,"n":0.765,"g":-0.010},
{"t":"Ca","lo":0.489,"hi":0.669},
{"t":"Ca","f":"VI","b":0.539,"n":0.552,"g":0.013},
{"t":"Ca","f":"EF","b":0.574,"n":0.580,"g":0.006},
{"t":"Ca","f":"SF","b":0.571,"n":0.568,"g":-0.003},
{"t":"Ca","f":"EF+VI","b":0.593,"n":0.605,"g":0.012},
{"t":"Ca","f":"EF+SF","b":0.617,"n":0.608,"g":-0.009},
{"t":"Ca","f":"VI+SF","b":0.577,"n":0.575,"g":-0.002},
{"t":"Ca","f":"EF+VI+SF","b":0.618,"n":0.606,"g":-0.012},
{"t":"K","lo":0.334,"hi":0.659},
{"t":"K","f":"VI","b":0.386,"n":0.384,"g":-0.002},
{"t":"K","f":"EF","b":0.440,"n":0.558,"g":0.118},
{"t":"K","f":"SF","b":0.432,"n":0.412,"g":-0.020},
{"t":"K","f":"EF+VI","b":0.600,"n":0.592,"g":-0.008},
{"t":"K","f":"EF+SF","b":0.602,"n":0.583,"g":-0.019},
{"t":"K","f":"VI+SF","b":0.452,"n":0.430,"g":-0.022},
{"t":"K","f":"EF+VI+SF","b":0.608,"n":0.589,"g":-0.019},
{"t":"Mg","lo":0.106,"hi":0.358},
{"t":"Mg","f":"VI","b":0.156,"n":0.258,"g":0.102},
{"t":"Mg","f":"EF","b":0.246,"n":0.272,"g":0.026},
{"t":"Mg","f":"SF","b":0.266,"n":0.276,"g":0.010},
{"t":"Mg","f":"EF+VI","b":0.281,"n":0.286,"g":0.005},
{"t":"Mg","f":"EF+SF","b":0.307,"n":0.303,"g":-0.004},
{"t":"Mg","f":"VI+SF","b":0.276,"n":0.284,"g":0.008},
{"t":"Mg","f":"EF+VI+SF","b":0.302,"n":0.302,"g":0.0004},
{"t":"Ash","lo":0.400,"hi":0.809},
{"t":"Ash","f":"VI","b":0.450,"n":0.542,"g":0.092},
{"t":"Ash","f":"EF","b":0.747,"n":0.746,"g":-0.001},
{"t":"Ash","f":"SF","b":0.550,"n":0.571,"g":0.021},
{"t":"Ash","f":"EF+VI","b":0.746,"n":0.749,"g":0.003},
{"t":"Ash","f":"EF+SF","b":0.757,"n":0.753,"g":-0.004},
{"t":"Ash","f":"VI+SF","b":0.556,"n":0.572,"g":0.016},
{"t":"Ash","f":"EF+VI+SF","b":0.754,"n":0.752,"g":-0.002}
]
},
"spacing": 8,
"vconcat": [
{"hconcat": [
{"title": {"text": "Features + EF", "orient": "bottom", "anchor": "middle", "font": "Liberation Serif", "fontSize": 59, "fontWeight": "bold", "color": "#000", "offset": -14, "dx": 48},
 "vconcat": [{
  "data": {"name": "EF"},
  "title": {"text": "R²", "orient": "left", "angle": 0, "align": "right", "baseline": "middle", "anchor": "middle", "font": "DejaVu Sans", "fontSize": 20, "fontStyle": "italic", "fontWeight": "normal", "color": "#000", "offset": -12},
  "facet": {"field": "t", "type": "nominal", "title": null, "sort": ["DM","CP","ADF","aNDF","ADL","NDFD48","NFC","Fat","TDN 1x","RFQ","Milk/ton","P","Ca","K","Mg","Ash"], "header": {"labels": false, "title": null, "labelExpr": "''", "labelFontSize": 1, "labelPadding": 0, "titlePadding": 0}},
  "columns": 4, "spacing": {"row": 11, "column": 44}, "bounds": "flush",
  "resolve": {"scale": {"y": "independent"}},
  "spec": {
   "width": 456, "height": 245,
   "encoding": {"x": {"field": "f", "type": "nominal", "title": null, "sort": ["TF","VI","SF","VI+SF","VI+TF","SF+TF","VI+SF+TF"], "scale": {"paddingInner": 0.71, "paddingOuter": 0.325}, "axis": {"labelPadding": {"condition": [{"test": "length(datum.value) > 6", "value": 27}, {"test": "length(datum.value) > 3", "value": 20}], "value": 13}}}},
   "layer": [
    {"transform": [{"filter": "isValid(datum.lo)"}], "mark": {"type": "rule", "opacity": 0}, "encoding": {"x": {"value": 0}, "y": {"field": "lo", "type": "quantitative", "title": null, "scale": {"zero": false, "nice": false}}, "y2": {"field": "hi"}}},
    {"transform": [{"filter": "isValid(datum.f)"}], "mark": {"type": "bar"}, "encoding": {"y": {"field": "b", "type": "quantitative", "title": null, "scale": {"zero": false, "nice": false}}, "y2": {"field": "n"}, "color": {"condition": {"test": "datum.g < 0", "value": "#86BDE5"}, "value": "#F08080"}}},
    {"transform": [{"filter": "isValid(datum.f)"}], "mark": {"type": "tick", "orient": "horizontal", "size": 19, "thickness": 2, "color": "#3a3a3a", "opacity": 1}, "encoding": {"y": {"field": "b", "type": "quantitative", "title": null, "scale": {"zero": false, "nice": false}}}},
    {"transform": [{"filter": "isValid(datum.f) && datum.g >= 0"}], "mark": {"type": "text", "baseline": "bottom", "dy": -3, "fontSize": 18, "color": "#000"}, "encoding": {"y": {"field": "n", "type": "quantitative", "title": null, "scale": {"zero": false, "nice": false}}, "text": {"field": "g", "type": "quantitative", "format": ".3f"}}},
    {"transform": [{"filter": "isValid(datum.f) && datum.g < 0"}], "mark": {"type": "text", "baseline": "top", "dy": 3, "fontSize": 18, "color": "#000"}, "encoding": {"y": {"field": "n", "type": "quantitative", "title": null, "scale": {"zero": false, "nice": false}}, "text": {"field": "g", "type": "quantitative", "format": ".3f"}}},
    {"transform": [{"filter": "isValid(datum.lo)"}], "mark": {"type": "text", "align": "right", "baseline": "alphabetic", "dx": -25, "dy": -17, "fontSize": 20, "fontWeight": "bold", "color": "#FF0000"}, "encoding": {"x": {"value": "width"}, "y": {"value": "height"}, "text": {"field": "t", "type": "nominal"}}}
   ]
  }
 }]
},
{"title": {"text": "Features + SF", "orient": "bottom", "anchor": "middle", "font": "Liberation Serif", "fontSize": 59, "fontWeight": "bold", "color": "#000", "offset": -14, "dx": 48},
 "vconcat": [{
  "data": {"name": "SF"},
  "title": {"text": "R²", "orient": "left", "angle": 0, "align": "right", "baseline": "middle", "anchor": "middle", "font": "DejaVu Sans", "fontSize": 20, "fontStyle": "italic", "fontWeight": "normal", "color": "#000", "offset": -12},
  "facet": {"field": "t", "type": "nominal", "title": null, "sort": ["DM","CP","ADF","aNDF","ADL","NDFD48","NFC","Fat","TDN 1x","RFQ","Milk/ton","P","Ca","K","Mg","Ash"], "header": {"labels": false, "title": null, "labelExpr": "''", "labelFontSize": 1, "labelPadding": 0, "titlePadding": 0}},
  "columns": 4, "spacing": {"row": 11, "column": 44}, "bounds": "flush",
  "resolve": {"scale": {"y": "independent"}},
  "spec": {
   "width": 456, "height": 245,
   "encoding": {"x": {"field": "f", "type": "nominal", "title": null, "sort": ["TF","VI","EF","EF+VI","EF+TF","VI+TF","EF+VI+TF"], "scale": {"paddingInner": 0.71, "paddingOuter": 0.325}, "axis": {"labelPadding": {"condition": [{"test": "length(datum.value) > 6", "value": 27}, {"test": "length(datum.value) > 3", "value": 20}], "value": 13}}}},
   "layer": [
    {"transform": [{"filter": "isValid(datum.lo)"}], "mark": {"type": "rule", "opacity": 0}, "encoding": {"x": {"value": 0}, "y": {"field": "lo", "type": "quantitative", "title": null, "scale": {"zero": false, "nice": false}}, "y2": {"field": "hi"}}},
    {"transform": [{"filter": "isValid(datum.f)"}], "mark": {"type": "bar"}, "encoding": {"y": {"field": "b", "type": "quantitative", "title": null, "scale": {"zero": false, "nice": false}}, "y2": {"field": "n"}, "color": {"condition": {"test": "datum.g < 0", "value": "#86BDE5"}, "value": "#F08080"}}},
    {"transform": [{"filter": "isValid(datum.f)"}], "mark": {"type": "tick", "orient": "horizontal", "size": 19, "thickness": 2, "color": "#3a3a3a", "opacity": 1}, "encoding": {"y": {"field": "b", "type": "quantitative", "title": null, "scale": {"zero": false, "nice": false}}}},
    {"transform": [{"filter": "isValid(datum.f) && datum.g >= 0"}], "mark": {"type": "text", "baseline": "bottom", "dy": -3, "fontSize": 18, "color": "#000"}, "encoding": {"y": {"field": "n", "type": "quantitative", "title": null, "scale": {"zero": false, "nice": false}}, "text": {"field": "g", "type": "quantitative", "format": ".3f"}}},
    {"transform": [{"filter": "isValid(datum.f) && datum.g < 0"}], "mark": {"type": "text", "baseline": "top", "dy": 3, "fontSize": 18, "color": "#000"}, "encoding": {"y": {"field": "n", "type": "quantitative", "title": null, "scale": {"zero": false, "nice": false}}, "text": {"field": "g", "type": "quantitative", "format": ".3f"}}},
    {"transform": [{"filter": "isValid(datum.lo)"}], "mark": {"type": "text", "align": "right", "baseline": "alphabetic", "dx": -25, "dy": -17, "fontSize": 20, "fontWeight": "bold", "color": "#FF0000"}, "encoding": {"x": {"value": "width"}, "y": {"value": "height"}, "text": {"field": "t", "type": "nominal"}}}
   ]
  }
 }]
}
], "spacing": 26},
{"hconcat": [
{"title": {"text": "Features + VI", "orient": "bottom", "anchor": "middle", "font": "Liberation Serif", "fontSize": 59, "fontWeight": "bold", "color": "#000", "offset": -14, "dx": 48},
 "vconcat": [{
  "data": {"name": "VI"},
  "title": {"text": "R²", "orient": "left", "angle": 0, "align": "right", "baseline": "middle", "anchor": "middle", "font": "DejaVu Sans", "fontSize": 20, "fontStyle": "italic", "fontWeight": "normal", "color": "#000", "offset": -12},
  "facet": {"field": "t", "type": "nominal", "title": null, "sort": ["DM","CP","ADF","aNDF","ADL","NDFD48","NFC","Fat","TDN 1x","RFQ","Milk/ton","P","Ca","K","Mg","Ash"], "header": {"labels": false, "title": null, "labelExpr": "''", "labelFontSize": 1, "labelPadding": 0, "titlePadding": 0}},
  "columns": 4, "spacing": {"row": 11, "column": 44}, "bounds": "flush",
  "resolve": {"scale": {"y": "independent"}},
  "spec": {
   "width": 456, "height": 245,
   "encoding": {"x": {"field": "f", "type": "nominal", "title": null, "sort": ["TF","EF","SF","EF+SF","EF+TF","SF+TF","EF+SF+TF"], "scale": {"paddingInner": 0.71, "paddingOuter": 0.325}, "axis": {"labelPadding": {"condition": [{"test": "length(datum.value) > 6", "value": 27}, {"test": "length(datum.value) > 3", "value": 20}], "value": 13}}}},
   "layer": [
    {"transform": [{"filter": "isValid(datum.lo)"}], "mark": {"type": "rule", "opacity": 0}, "encoding": {"x": {"value": 0}, "y": {"field": "lo", "type": "quantitative", "title": null, "scale": {"zero": false, "nice": false}}, "y2": {"field": "hi"}}},
    {"transform": [{"filter": "isValid(datum.f)"}], "mark": {"type": "bar"}, "encoding": {"y": {"field": "b", "type": "quantitative", "title": null, "scale": {"zero": false, "nice": false}}, "y2": {"field": "n"}, "color": {"condition": {"test": "datum.g < 0", "value": "#86BDE5"}, "value": "#F08080"}}},
    {"transform": [{"filter": "isValid(datum.f)"}], "mark": {"type": "tick", "orient": "horizontal", "size": 19, "thickness": 2, "color": "#3a3a3a", "opacity": 1}, "encoding": {"y": {"field": "b", "type": "quantitative", "title": null, "scale": {"zero": false, "nice": false}}}},
    {"transform": [{"filter": "isValid(datum.f) && datum.g >= 0"}], "mark": {"type": "text", "baseline": "bottom", "dy": -3, "fontSize": 18, "color": "#000"}, "encoding": {"y": {"field": "n", "type": "quantitative", "title": null, "scale": {"zero": false, "nice": false}}, "text": {"field": "g", "type": "quantitative", "format": ".3f"}}},
    {"transform": [{"filter": "isValid(datum.f) && datum.g < 0"}], "mark": {"type": "text", "baseline": "top", "dy": 3, "fontSize": 18, "color": "#000"}, "encoding": {"y": {"field": "n", "type": "quantitative", "title": null, "scale": {"zero": false, "nice": false}}, "text": {"field": "g", "type": "quantitative", "format": ".3f"}}},
    {"transform": [{"filter": "isValid(datum.lo)"}], "mark": {"type": "text", "align": "right", "baseline": "alphabetic", "dx": -25, "dy": -17, "fontSize": 20, "fontWeight": "bold", "color": "#FF0000"}, "encoding": {"x": {"value": "width"}, "y": {"value": "height"}, "text": {"field": "t", "type": "nominal"}}}
   ]
  }
 }]
},
{"title": {"text": "Features + TF", "orient": "bottom", "anchor": "middle", "font": "Liberation Serif", "fontSize": 59, "fontWeight": "bold", "color": "#000", "offset": -14, "dx": 48},
 "vconcat": [{
  "data": {"name": "TF"},
  "title": {"text": "R²", "orient": "left", "angle": 0, "align": "right", "baseline": "middle", "anchor": "middle", "font": "DejaVu Sans", "fontSize": 20, "fontStyle": "italic", "fontWeight": "normal", "color": "#000", "offset": -12},
  "facet": {"field": "t", "type": "nominal", "title": null, "sort": ["DM","CP","ADF","aNDF","ADL","NDFD48","NFC","Fat","TDN 1x","RFQ","Milk/ton","P","Ca","K","Mg","Ash"], "header": {"labels": false, "title": null, "labelExpr": "''", "labelFontSize": 1, "labelPadding": 0, "titlePadding": 0}},
  "columns": 4, "spacing": {"row": 11, "column": 44}, "bounds": "flush",
  "resolve": {"scale": {"y": "independent"}},
  "spec": {
   "width": 456, "height": 245,
   "encoding": {"x": {"field": "f", "type": "nominal", "title": null, "sort": ["VI","EF","SF","EF+VI","EF+SF","VI+SF","EF+VI+SF"], "scale": {"paddingInner": 0.71, "paddingOuter": 0.325}, "axis": {"labelPadding": {"condition": [{"test": "length(datum.value) > 6", "value": 27}, {"test": "length(datum.value) > 3", "value": 20}], "value": 13}}}},
   "layer": [
    {"transform": [{"filter": "isValid(datum.lo)"}], "mark": {"type": "rule", "opacity": 0}, "encoding": {"x": {"value": 0}, "y": {"field": "lo", "type": "quantitative", "title": null, "scale": {"zero": false, "nice": false}}, "y2": {"field": "hi"}}},
    {"transform": [{"filter": "isValid(datum.f)"}], "mark": {"type": "bar"}, "encoding": {"y": {"field": "b", "type": "quantitative", "title": null, "scale": {"zero": false, "nice": false}}, "y2": {"field": "n"}, "color": {"condition": {"test": "datum.g < 0", "value": "#86BDE5"}, "value": "#F08080"}}},
    {"transform": [{"filter": "isValid(datum.f)"}], "mark": {"type": "tick", "orient": "horizontal", "size": 19, "thickness": 2, "color": "#3a3a3a", "opacity": 1}, "encoding": {"y": {"field": "b", "type": "quantitative", "title": null, "scale": {"zero": false, "nice": false}}}},
    {"transform": [{"filter": "isValid(datum.f) && datum.g >= 0"}], "mark": {"type": "text", "baseline": "bottom", "dy": -3, "fontSize": 18, "color": "#000"}, "encoding": {"y": {"field": "n", "type": "quantitative", "title": null, "scale": {"zero": false, "nice": false}}, "text": {"field": "g", "type": "quantitative", "format": ".3f"}}},
    {"transform": [{"filter": "isValid(datum.f) && datum.g < 0"}], "mark": {"type": "text", "baseline": "top", "dy": 3, "fontSize": 18, "color": "#000"}, "encoding": {"y": {"field": "n", "type": "quantitative", "title": null, "scale": {"zero": false, "nice": false}}, "text": {"field": "g", "type": "quantitative", "format": ".3f"}}},
    {"transform": [{"filter": "isValid(datum.lo)"}], "mark": {"type": "text", "align": "right", "baseline": "alphabetic", "dx": -25, "dy": -17, "fontSize": 20, "fontWeight": "bold", "color": "#FF0000"}, "encoding": {"x": {"value": "width"}, "y": {"value": "height"}, "text": {"field": "t", "type": "nominal"}}}
   ]
  }
 }]
}
], "spacing": 26}
],
"config": {
 "font": "DejaVu Sans",
 "numberFormat": ".2f",
 "header": {"labels": false, "labelExpr": "''", "labelFontSize": 1, "labelPadding": 0},
 "headerFacet": {"labels": false, "labelExpr": "''", "labelFontSize": 1, "labelPadding": 0},
 "view": {"stroke": "#a3a3a3", "strokeWidth": 1.5},
 "axisX": {"labelAngle": -30, "labelAlign": "center", "labelBaseline": "middle", "labelFontSize": 18, "labelColor": "#000", "tickSize": 3.5, "tickColor": "#555", "domain": false, "grid": false, "labelOverlap": false},
 "axisY": {"labelFontSize": 18, "labelColor": "#000", "tickSize": 3.5, "tickColor": "#555", "domain": false, "grid": true, "gridColor": "#cfcfcf", "gridDash": [2, 2], "gridWidth": 1, "labelPadding": 2, "tickCount": 4.3, "labelOverlap": false}
}
}
